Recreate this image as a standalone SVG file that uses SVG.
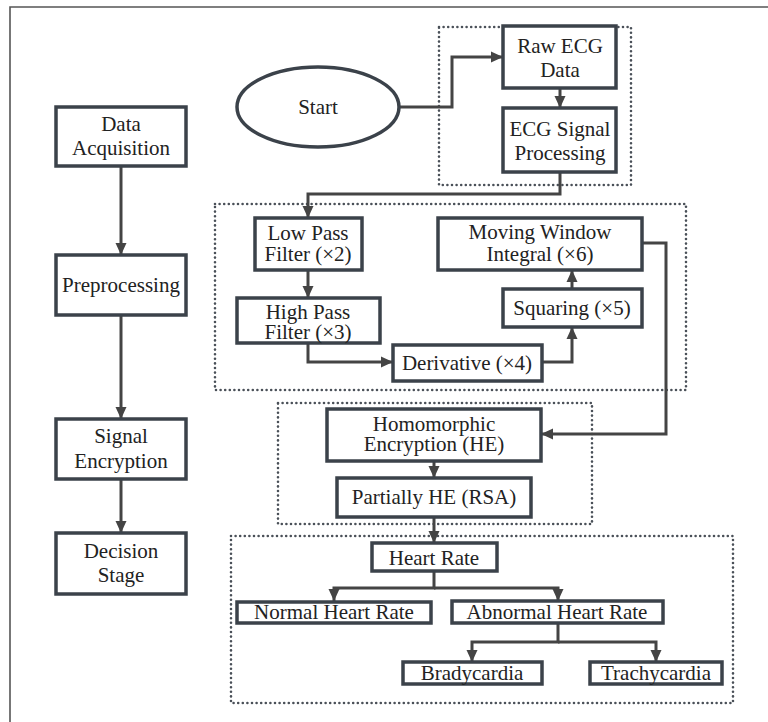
<svg xmlns="http://www.w3.org/2000/svg" width="768" height="722" viewBox="0 0 768 722">
<style>
.box{fill:#fff;stroke:#3b424a;stroke-width:3.5}
.t{font-family:"Liberation Serif","Times New Roman",serif;font-size:21px;fill:#222;text-anchor:middle}
.c{fill:none;stroke:#444;stroke-width:3}
.dot{fill:none;stroke:#4a5058;stroke-width:2.6;stroke-dasharray:0 4.6;stroke-linecap:round}
</style>
<defs>
<marker id="ah" markerUnits="userSpaceOnUse" markerWidth="12" markerHeight="12" viewBox="0 0 12 12" refX="12" refY="6" orient="auto">
<path d="M0,0.5 L12,6 L0,11.5 z" fill="#444"/>
</marker>
</defs>
<rect width="768" height="722" fill="#fff"/>
<path d="M10,722 V7 H768" fill="none" stroke="#555" stroke-width="1.6"/>

<g id="groups">
<rect class="dot" x="439" y="27" width="192" height="158"/>
<rect class="dot" x="215" y="204" width="471" height="186"/>
<rect class="dot" x="278" y="403" width="314" height="121"/>
<rect class="dot" x="231" y="536" width="502" height="167"/>
</g>

<g id="connectors">
<path class="c" d="M121,166 V255" marker-end="url(#ah)"/>
<path class="c" d="M121,315 V419" marker-end="url(#ah)"/>
<path class="c" d="M121,479 V533" marker-end="url(#ah)"/>
<path class="c" d="M399,107 H452 V57 H503" marker-end="url(#ah)"/>
<path class="c" d="M560,88 V108" marker-end="url(#ah)"/>
<path class="c" d="M560,172 V194 H308 V218" marker-end="url(#ah)"/>
<path class="c" d="M308,270 V298" marker-end="url(#ah)"/>
<path class="c" d="M308,343 V362 H393" marker-end="url(#ah)"/>
<path class="c" d="M542,362 H572 V327" marker-end="url(#ah)"/>
<path class="c" d="M572,289 V270" marker-end="url(#ah)"/>
<path class="c" d="M642,243 H666 V434 H541" marker-end="url(#ah)"/>
<path class="c" d="M434,461 V478" marker-end="url(#ah)"/>
<path class="c" d="M434,517 V543" marker-end="url(#ah)"/>
<path class="c" d="M434,571 V588 H334 V601"  marker-end="url(#ah)"/>
<path class="c" d="M434,588 H558 V601" marker-end="url(#ah)"/>
<path class="c" d="M558,623 V642 H472 V662" marker-end="url(#ah)"/>
<path class="c" d="M558,642 H656 V662" marker-end="url(#ah)"/>
</g>

<g id="data-acquisition">
<rect class="box" x="56" y="107" width="130" height="59"/>
<text class="t" x="121" y="131">Data</text>
<text class="t" x="121" y="155">Acquisition</text>
</g>
<g id="preprocessing">
<rect class="box" x="56" y="255" width="130" height="60"/>
<text class="t" x="121" y="292">Preprocessing</text>
</g>
<g id="signal-encryption">
<rect class="box" x="56" y="419" width="130" height="60"/>
<text class="t" x="121" y="443">Signal</text>
<text class="t" x="121" y="468">Encryption</text>
</g>
<g id="decision-stage">
<rect class="box" x="56" y="533" width="130" height="61"/>
<text class="t" x="121" y="558">Decision</text>
<text class="t" x="121" y="582">Stage</text>
</g>

<g id="start">
<ellipse cx="318" cy="107" rx="81" ry="40" fill="#fff" stroke="#3b424a" stroke-width="3.5"/>
<text class="t" x="318" y="114">Start</text>
</g>
<g id="raw-ecg">
<rect class="box" x="503" y="26" width="113" height="62"/>
<text class="t" x="560" y="53">Raw ECG</text>
<text class="t" x="560" y="77">Data</text>
</g>
<g id="ecg-processing">
<rect class="box" x="503" y="108" width="113" height="64"/>
<text class="t" x="560" y="136">ECG Signal</text>
<text class="t" x="560" y="160">Processing</text>
</g>
<g id="low-pass">
<rect class="box" x="255" y="218" width="107" height="52"/>
<text class="t" x="308" y="240">Low Pass</text>
<text class="t" x="308" y="261">Filter (×2)</text>
</g>
<g id="high-pass">
<rect class="box" x="237" y="298" width="143" height="45"/>
<text class="t" x="308" y="319">High Pass</text>
<text class="t" x="308" y="339">Filter (×3)</text>
</g>
<g id="derivative">
<rect class="box" x="393" y="345" width="149" height="36"/>
<text class="t" x="467" y="370">Derivative (×4)</text>
</g>
<g id="squaring">
<rect class="box" x="503" y="289" width="139" height="38"/>
<text class="t" x="572" y="315">Squaring (×5)</text>
</g>
<g id="moving-window">
<rect class="box" x="438" y="218" width="204" height="52"/>
<text class="t" x="540" y="239">Moving Window</text>
<text class="t" x="540" y="261">Integral (×6)</text>
</g>
<g id="homomorphic">
<rect class="box" x="327" y="409" width="214" height="52"/>
<text class="t" x="434" y="431">Homomorphic</text>
<text class="t" x="434" y="451">Encryption (HE)</text>
</g>
<g id="partially-he">
<rect class="box" x="337" y="478" width="194" height="39"/>
<text class="t" x="434" y="504">Partially HE (RSA)</text>
</g>
<g id="heart-rate">
<rect class="box" x="372" y="543" width="125" height="28"/>
<text class="t" x="434" y="565">Heart Rate</text>
</g>
<g id="normal-hr">
<rect class="box" x="237" y="602" width="194" height="21"/>
<text class="t" x="334" y="619">Normal Heart Rate</text>
</g>
<g id="abnormal-hr">
<rect class="box" x="452" y="601" width="211" height="22"/>
<text class="t" x="557" y="619">Abnormal Heart Rate</text>
</g>
<g id="bradycardia">
<rect class="box" x="403" y="662" width="139" height="22"/>
<text class="t" x="472" y="680">Bradycardia</text>
</g>
<g id="trachycardia">
<rect class="box" x="590" y="662" width="132" height="22"/>
<text class="t" x="656" y="680">Trachycardia</text>
</g>
</svg>
